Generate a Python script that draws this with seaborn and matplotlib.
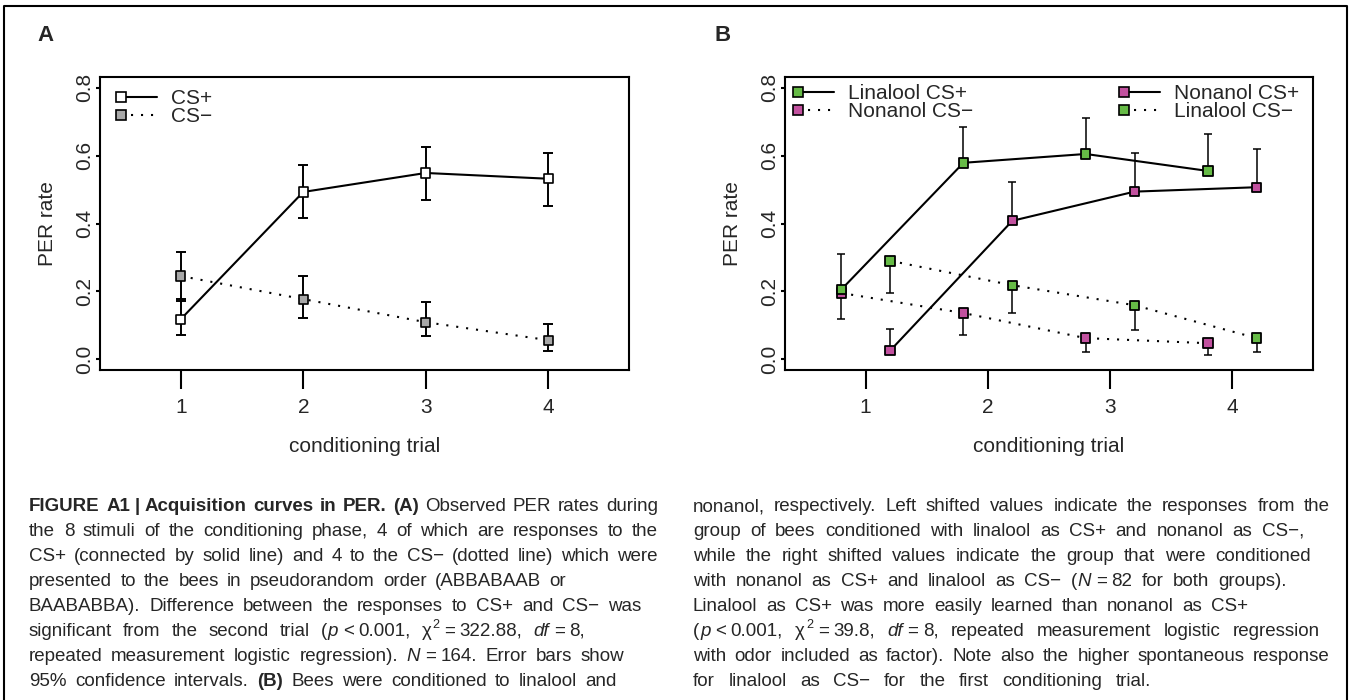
import matplotlib
matplotlib.use("Agg")
import numpy as np
import pandas as pd
import seaborn as sns
import matplotlib.pyplot as plt
import matplotlib.transforms as mtransforms
from matplotlib.lines import Line2D
from matplotlib.legend_handler import HandlerBase

# ---- data ----
trials = [1, 2, 3, 4]
y_ticks = [0.0, 0.2, 0.4, 0.6, 0.8]

# panel A: all bees
a_plus = [0.118, 0.493, 0.549, 0.532]
a_plus_lo = [0.071, 0.416, 0.470, 0.452]
a_plus_hi = [0.172, 0.573, 0.627, 0.609]
a_minus = [0.245, 0.177, 0.109, 0.056]
a_minus_lo = [0.177, 0.121, 0.068, 0.024]
a_minus_hi = [0.316, 0.245, 0.168, 0.103]

# panel B: by odor
lin_plus = [0.205, 0.579, 0.605, 0.555]
lin_plus_hi = [0.310, 0.685, 0.712, 0.665]
non_plus = [0.025, 0.408, 0.494, 0.507]
non_plus_hi = [0.088, 0.523, 0.609, 0.620]
non_minus = [0.195, 0.136, 0.062, 0.047]
non_minus_lo = [0.118, 0.071, 0.021, 0.012]
lin_minus = [0.290, 0.218, 0.159, 0.062]
lin_minus_lo = [0.195, 0.136, 0.086, 0.021]

caption_left = [
    "*FIGURE A1~|~Acquisition curves in PER. (A)* Observed PER rates during",
    "the 8 stimuli of the conditioning phase, 4 of which are responses to the",
    "CS+ (connected by solid line) and 4 to the CS\u2212 (dotted line) which were",
    "presented to the bees in pseudorandom order (ABBABAAB or",
    "BAABABBA). Difference between the responses to CS+ and CS\u2212 was",
    "significant from the second trial (_p_~<~0.001, \u03c7^2^~=~322.88, _df_~=~8,",
    "repeated measurement logistic regression). _N_~=~164. Error bars show",
    "95% confidence intervals. *(B)* Bees were conditioned to linalool and",
]
caption_right = [
    "nonanol, respectively. Left shifted values indicate the responses from the",
    "group of bees conditioned with linalool as CS+ and nonanol as CS\u2212,",
    "while the right shifted values indicate the group that were conditioned",
    "with nonanol as CS+ and linalool as CS\u2212 (_N_~=~82 for both groups).",
    "Linalool as CS+ was more easily learned than nonanol as CS+",
    "(_p_~<~0.001, \u03c7^2^~=~39.8, _df_~=~8, repeated measurement logistic regression",
    "with odor included as factor). Note also the higher spontaneous response",
    "for linalool as CS\u2212 for the first conditioning trial.",
]
left_ends = [658, 658, 658, 566, 641, 585, 624, 617]
right_ends = [1330, 1304, 1311, 1287, 1248, 1320, 1330, 1151]

GREEN = "#66bb46"
PINK = "#c2519f"
GREY = "#a8a8a8"
DOT = (1, 3.8)

W, H = 1352, 700

sns.set_theme(style="ticks")
plt.rcParams["font.family"] = ["Liberation Sans", "DejaVu Sans"]
plt.rcParams["axes.linewidth"] = 1.5

cap_font, cap_size = "Liberation Sans", 13.5

fig = plt.figure(figsize=(W / 100, H / 100), dpi=100)
px = mtransforms.Affine2D().scale(1 / W, -1 / H).translate(0, 1) + fig.transFigure

ax_a = fig.add_axes([100 / W, 1 - 370 / H, 529 / W, 293 / H])
ax_b = fig.add_axes([785 / W, 1 - 370 / H, 528 / W, 293 / H])


class KeyHandler(HandlerBase):
    """marker at the left end of the key, line running to the right"""
    def create_artists(self, legend, orig_handle, xdescent, ydescent,
                       width, height, fontsize, trans):
        y = (height - ydescent) / 2
        half = (orig_handle.get_markersize() + orig_handle.get_markeredgewidth()) / 2
        x0 = -xdescent + half
        seg = Line2D([x0, -xdescent + width], [y, y])
        seg.update_from(orig_handle)
        seg.set_marker("None")
        mk = Line2D([x0], [y])
        mk.update_from(orig_handle)
        mk.set_linestyle("None")
        for a in (seg, mk):
            a.set_transform(trans)
        return [seg, mk]


def key(face, dotted):
    return Line2D([], [], color="black", lw=1.5, ls=(0, DOT) if dotted else "-",
                  marker="s", ms=6.6, mfc=face, mec="black", mew=1.2)


def add_legend(ax, handles, labels, x, y):
    leg = ax.legend(handles, labels, handler_map={Line2D: KeyHandler()},
                    loc="upper left", bbox_to_anchor=(x, y), frameon=False,
                    borderpad=0, borderaxespad=0, handlelength=1.98,
                    handletextpad=0.68, labelspacing=-0.03, fontsize=15)
    ax.add_artist(leg)
    ax.legend_ = None   # keep it only once in the artist list


def style_axes(ax):
    ax.set_xlim(0.34, 4.66)
    ax.set_ylim(-0.032, 0.832)
    ax.set_xticks(trials)
    ax.set_xticklabels([str(t) for t in trials])
    ax.set_yticks(y_ticks)
    ax.set_yticklabels([f"{v:.1f}" for v in y_ticks])
    ax.tick_params(axis="x", length=13.5, width=1.5, pad=6.5, labelsize=15, color="black")
    ax.tick_params(axis="y", length=3, width=1.5, pad=1.2, labelsize=15,
                   labelrotation=90, color="black")
    plt.setp(ax.get_yticklabels(), va="center")
    ax.set_xlabel("conditioning trial", fontsize=15, labelpad=14.5)
    ax.set_ylabel("PER rate", fontsize=15, labelpad=13)
    for s in ax.spines.values():
        s.set_visible(True)
        s.set_linewidth(1.5)
        s.set_color("black")
    ax.grid(False)


# ---- panel A ----
df_a = pd.DataFrame({
    "trial": trials * 2,
    "rate": a_plus + a_minus,
    "stimulus": ["CS+"] * 4 + ["CS\u2212"] * 4,
})
sns.lineplot(data=df_a, x="trial", y="rate", style="stimulus",
             dashes={"CS+": "", "CS\u2212": DOT}, color="black", lw=1.5,
             estimator=None, legend=False, ax=ax_a)
for val, lo, hi in [(a_plus, a_plus_lo, a_plus_hi), (a_minus, a_minus_lo, a_minus_hi)]:
    v = np.array(val)
    ax_a.errorbar(trials, v, yerr=[v - np.array(lo), np.array(hi) - v], fmt="none",
                  ecolor="black", elinewidth=1.4, capsize=3.3, capthick=1.4, zorder=3)
sns.scatterplot(data=df_a, x="trial", y="rate", hue="stimulus",
                palette={"CS+": "white", "CS\u2212": GREY}, marker="s", s=44,
                edgecolor="black", linewidth=1.2, legend=False, zorder=5, ax=ax_a)
style_axes(ax_a)
add_legend(ax_a, [key("white", False), key(GREY, True)], ["CS+", "CS\u2212"], 0.030, 0.959)

# ---- panel B ----
series = ["Nonanol CS\u2212", "Linalool CS\u2212", "Linalool CS+", "Nonanol CS+"]
shift = {"Nonanol CS\u2212": -0.2, "Linalool CS\u2212": 0.2, "Linalool CS+": -0.2, "Nonanol CS+": 0.2}
vals = {"Nonanol CS\u2212": non_minus, "Linalool CS\u2212": lin_minus,
        "Linalool CS+": lin_plus, "Nonanol CS+": non_plus}
rows = []
for name in series:
    for t, v in zip(trials, vals[name]):
        rows.append({"x": t + shift[name], "rate": v, "series": name, "odor": name.split()[0]})
df_b = pd.DataFrame(rows)

sns.lineplot(data=df_b, x="x", y="rate", style="series",
             dashes={n: ("" if n.endswith("+") else DOT) for n in series},
             color="black", lw=1.5, estimator=None, legend=False, ax=ax_b)

for name, hi in [("Linalool CS+", lin_plus_hi), ("Nonanol CS+", non_plus_hi)]:
    v = np.array(vals[name])
    x = np.array(trials) + shift[name]
    ax_b.errorbar(x, v, yerr=[np.zeros(4), np.array(hi) - v], fmt="none", ecolor="black",
                  elinewidth=1.1, capsize=2.9, capthick=1.1, zorder=3)
for name, lo in [("Nonanol CS\u2212", non_minus_lo), ("Linalool CS\u2212", lin_minus_lo)]:
    v = np.array(vals[name])
    x = np.array(trials) + shift[name]
    ax_b.errorbar(x, v, yerr=[v - np.array(lo), np.zeros(4)], fmt="none", ecolor="black",
                  elinewidth=1.1, capsize=2.9, capthick=1.1, zorder=3)

sns.scatterplot(data=df_b, x="x", y="rate", hue="odor",
                palette={"Linalool": GREEN, "Nonanol": PINK}, marker="s", s=46,
                edgecolor="black", linewidth=1.3, legend=False, zorder=5, ax=ax_b)
style_axes(ax_b)
add_legend(ax_b, [key(GREEN, False), key(PINK, True)],
           ["Linalool CS+", "Nonanol CS\u2212"], 0.015, 0.976)
add_legend(ax_b, [key(PINK, False), key(GREEN, True)],
           ["Nonanol CS+", "Linalool CS\u2212"], 0.6326, 0.976)

# ---- panel letters and outer frame ----
fig.text(37, 41, "A", transform=px, fontsize=16, fontweight="bold", va="baseline")
fig.text(715, 41, "B", transform=px, fontsize=16, fontweight="bold", va="baseline")
fig.add_artist(Line2D([4, 4, 1347, 1347], [720, 6, 6, 720], transform=px,
                      color="black", lw=1.5))

# ---- caption, justified word by word ----
rend = fig.canvas.get_renderer()
nat = 0.25 * cap_size * 100 / 72


def parse(line):
    words = [[]]
    state = {"b": False, "i": False, "s": False, "glue": False}
    buf = []

    def flush():
        if buf:
            words[-1].append(("".join(buf), state["b"], state["i"], state["s"], state["glue"]))
            buf.clear()
            state["glue"] = False

    for ch in line:
        if ch == "*":
            flush(); state["b"] = not state["b"]
        elif ch == "_":
            flush(); state["i"] = not state["i"]
        elif ch == "^":
            flush(); state["s"] = not state["s"]
        elif ch == " ":
            flush(); words.append([])
        elif ch == "~":
            flush(); state["glue"] = True
        else:
            buf.append(ch)
    flush()
    return [w for w in words if w]


def piece_kw(b, i, s):
    return dict(fontfamily=cap_font, fontsize=cap_size * (0.68 if s else 1),
                fontweight="bold" if b else "normal",
                fontstyle="italic" if i else "normal")


def draw_line(line, x0, x1, yb):
    words = []
    for w in parse(line):
        pieces = []
        for s, b, i, sup, glue in w:
            kw = piece_kw(b, i, sup)
            t = fig.text(0, 0, s, **kw)
            wd = t.get_window_extent(rend).width
            t.remove()
            gap = 0 if not pieces else (nat if glue else 0.8)
            pieces.append((s, kw, sup, gap, wd))
        words.append(pieces)
    widths = [sum(p[3] + p[4] for p in w) for w in words]
    space = (x1 - x0 - sum(widths)) / max(len(words) - 1, 1)
    x = x0
    for w, ww in zip(words, widths):
        xx = x
        for s, kw, sup, gap, wd in w:
            xx += gap
            yy = yb - (0.42 * cap_size * 100 / 72 if sup else 0)
            fig.text(xx, yy, s, transform=px, ha="left", va="baseline", **kw)
            xx += wd
        x += ww + space


for k, line in enumerate(caption_left):
    draw_line(line, 29, left_ends[k], 511 + 25 * k)
for k, line in enumerate(caption_right):
    draw_line(line, 693, right_ends[k], 511 + 25 * k)

fig.savefig("out.png", dpi=100)
